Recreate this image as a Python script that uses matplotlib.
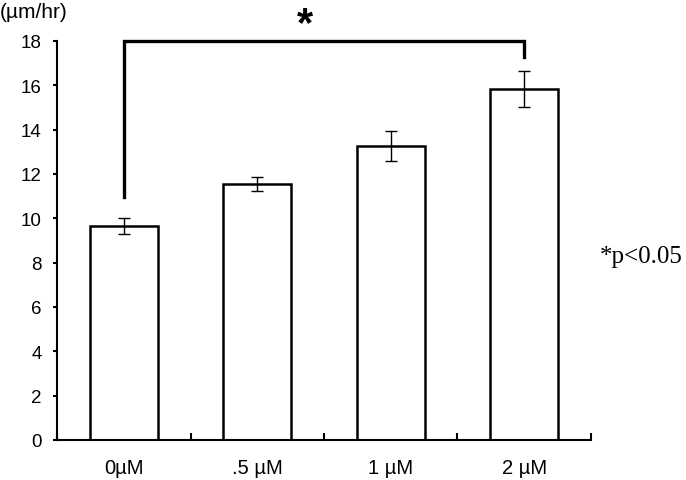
import numpy as np
import matplotlib.pyplot as plt

plt.rcParams['font.family'] = ['Liberation Sans', 'DejaVu Sans']

labels = ["0µM", ".5 µM", "1 µM", "2 µM"]
values = [9.65, 11.55, 13.26, 15.83]
errors = [0.35, 0.30, 0.68, 0.80]
y_ticks = [0, 2, 4, 6, 8, 10, 12, 14, 16, 18]

fig = plt.figure(figsize=(6.86, 4.81), dpi=100)
ax = fig.add_axes([0.0831, 0.0832, 0.7784, 0.8295])

x = np.arange(len(labels))
ax.bar(x, values, width=0.51, color="white", edgecolor="black", linewidth=1.8, zorder=2)
ax.errorbar(x, values, yerr=errors, fmt="none", ecolor="black", elinewidth=1,
            capsize=4, capthick=1, zorder=3)

ax.set_xlim(-0.5, 3.5)
ax.set_ylim(0, 18)
ax.set_yticks(y_ticks)
ax.set_yticklabels([str(t) for t in y_ticks], fontsize=13.5)
ax.set_xticks(x)
ax.set_xticklabels(labels, fontsize=14.5)
ax.tick_params(axis="x", length=0, pad=13)
ax.tick_params(axis="y", length=3, width=1.5, direction="out", pad=8)
# separator ticks between categories
ax.set_xticks([-0.5, 0.5, 1.5, 2.5, 3.5], minor=True)
ax.tick_params(axis="x", which="minor", length=5, width=1.5, direction="in")

for side in ["top", "right"]:
    ax.spines[side].set_visible(False)
ax.spines["left"].set_linewidth(1.5)
ax.spines["bottom"].set_linewidth(1.5)

# significance bracket
ax.plot([0, 0, 3, 3], [10.96, 18, 18, 17.27], color="black", linewidth=2.4,
        clip_on=False, solid_joinstyle="miter", zorder=4)
fig.text(0.445, 0.926, "*", fontsize=30, fontweight="bold", ha="center", va="baseline")

fig.text(0.0, 0.974, "(µm/hr)", fontsize=15, ha="left", va="center")
fig.text(0.875, 0.465, "*p<0.05", fontsize=18, family="Liberation Serif",
         ha="left", va="center")

fig.savefig("out.png", dpi=100)
